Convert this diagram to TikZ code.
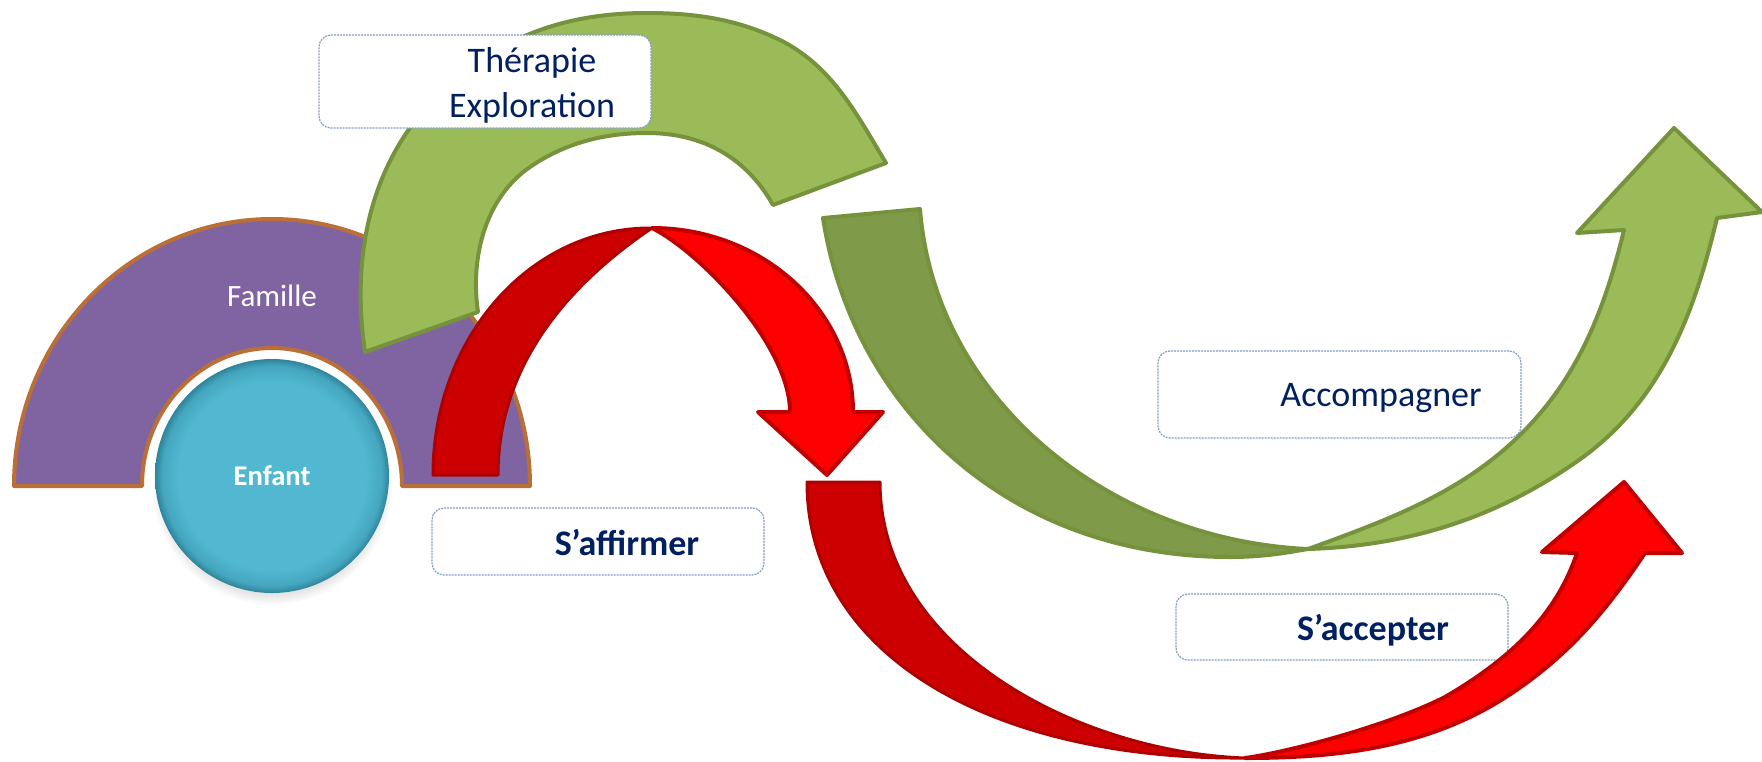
\documentclass[tikz,border=0pt]{standalone}
\usepackage{fontspec}
\setmainfont{Carlito}
\usetikzlibrary{shadows}
\definecolor{purp}{HTML}{8064A2}
\definecolor{brownb}{HTML}{B96F35}
\definecolor{cyanA}{HTML}{52B8D2}
\definecolor{cyanB}{HTML}{45A6BF}
\definecolor{cyanC}{HTML}{2E8499}
\definecolor{gl}{HTML}{9BBB59}
\definecolor{gd}{HTML}{7F9A48}
\definecolor{gb}{HTML}{76923C}
\definecolor{rd}{HTML}{CC0000}
\definecolor{rb}{HTML}{FF0000}
\definecolor{rbord}{HTML}{C00000}
\definecolor{navy}{HTML}{002060}
\definecolor{boxb}{HTML}{7E9CD0}
\pgfdeclareradialshading{bevelblue}{\pgfpoint{0bp}{0bp}}{color(0bp)=(cyanA); color(20bp)=(cyanA); color(23.5bp)=(cyanB); color(25bp)=(cyanC); color(50bp)=(cyanC)}
\tikzset{
  glight/.style={fill=gl, draw=gb, line width=2pt, line join=round},
  gdark/.style={fill=gd, draw=gb, line width=2pt, line join=round},
  rlight/.style={fill=rb, draw=rbord, line width=2pt, line join=round},
  rdark/.style={fill=rd, draw=rbord!90!black, line width=1.5pt, line join=round},
  lbox/.style={draw=boxb, line width=0.6pt, dash pattern=on 1pt off 0.5pt, rounded corners=6pt, fill=white, inner sep=0pt},
  lbl/.style={text=navy, inner sep=0pt, anchor=base, font=\fontsize{18}{21.6}\selectfont},
  lblb/.style={lbl, font=\bfseries\fontsize{18}{21.6}\selectfont}
}
\begin{document}
\begin{tikzpicture}[x=0.5pt, y=-0.5pt]
\useasboundingbox (0,0) rectangle (1762,761);
% Famille half ring
\filldraw[fill=purp, draw=brownb, line width=2pt, line join=round]
  (14,486) arc[start angle=180, end angle=360, x radius=258, y radius=267]
  -- (402,486) arc[start angle=360, end angle=180, x radius=130, y radius=138] -- cycle;
\node[text=white, inner sep=0pt, anchor=base, font=\fontsize{15.5}{18}\selectfont] (fam) at (272,306) {Famille};
% Enfant
\node[circle, minimum size=117pt, inner sep=0pt, shade, shading=bevelblue, text=white,
  font=\bfseries\fontsize{14.3}{17}\selectfont,
  circular drop shadow={shadow xshift=0pt, shadow yshift=-4pt, shadow scale=1.03, opacity=0.35}] (enf) at (272,476) {Enfant};
% boxes lying under the arrows
\node[lbox, minimum width=181.5pt, minimum height=43.5pt] (bacc) at (1339.5,394.5) {};
\node[lbox, minimum width=166pt, minimum height=33pt] (bsac) at (1342,627) {};
% green top arc
\filldraw[glight] (365,352) .. controls (349,243) and (376,140) .. (463,73)
  .. controls (518,30) and (577,13) .. (647,13)
  .. controls (695,13) and (737,19) .. (780,40)
  .. controls (832,66) and (856,113) .. (886,163)
  -- (773,205) .. controls (746,157) and (702,133) .. (647,133)
  .. controls (604,133) and (565,143) .. (530,167)
  .. controls (485,198) and (470,258) .. (478,312) -- cycle;
% red arrow 1
\filldraw[rdark] (433,475) .. controls (433,338) and (530,227) .. (652,228)
  .. controls (575,280) and (498,360) .. (498,475) -- cycle;
\filldraw[rlight] (652,228) .. controls (763,228) and (853,311) .. (853,412)
  -- (883,412) -- (827,475) -- (758,412) -- (790,412)
  .. controls (790,345) and (700,252) .. (652,228) -- cycle;
% green big arrow
\filldraw[gdark] (823,218) .. controls (852,406) and (1006,557) .. (1230,557)
  .. controls (1265,557) and (1290,552) .. (1308,549)
  .. controls (1110,540) and (935,400) .. (920,209) -- cycle;
\filldraw[glight] (1308,549) .. controls (1408,546) and (1497,518) .. (1579,460)
  .. controls (1661,402) and (1694,315) .. (1717,218)
  -- (1762,212) -- (1674,128) -- (1577,233) -- (1624,230)
  .. controls (1605,308) and (1579,376) .. (1522,433)
  .. controls (1462,493) and (1388,520) .. (1308,549) -- cycle;
% red arrow 2
\filldraw[rdark] (807,482) .. controls (807,654) and (990,760) .. (1245,758)
  .. controls (1077,752) and (880,648) .. (880,482) -- cycle;
\filldraw[rlight] (1245,758) .. controls (1344,758) and (1433,746) .. (1512,693)
  .. controls (1570,654) and (1606,611) .. (1645,553)
  -- (1682,553) -- (1624,482) -- (1542,552) -- (1577,553)
  .. controls (1555,619) and (1505,662) .. (1445,697)
  .. controls (1390,725) and (1290,752) .. (1245,758) -- cycle;
% boxes on top
\node[lbox, minimum width=166pt, minimum height=46.5pt] (bther) at (485,81.5) {};
\node[lbox, minimum width=166pt, minimum height=33.5pt] (baff) at (598,541.5) {};
% labels
\node[lbl] (tther) at (532,72) {Thérapie};
\node[lbl] (texp) at (532,117) {Exploration};
\node[lblb] (taff) at (627,555) {S’affirmer};
\node[lbl] (tacc) at (1381,406) {Accompagner};
\node[lblb] (tsac) at (1373,640) {S’accepter};
\end{tikzpicture}
\end{document}
